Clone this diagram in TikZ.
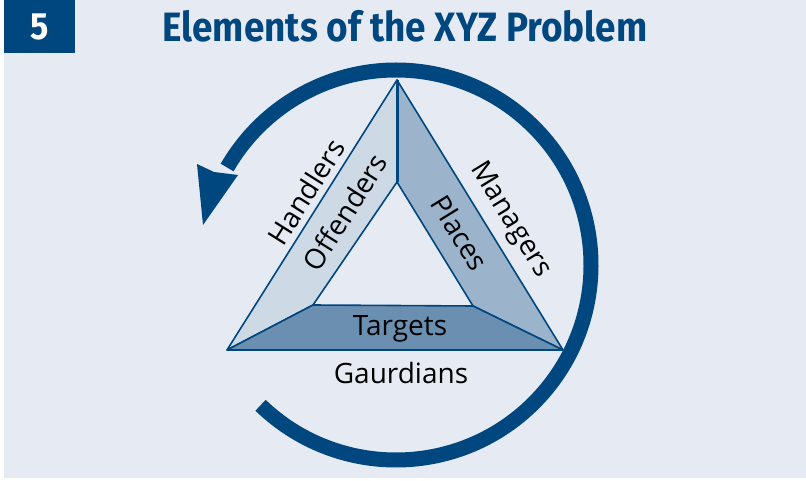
\documentclass[tikz,border=0pt]{standalone}
\usepackage{fontspec}
\setmainfont{Open Sans}
\newfontfamily\titlefont{Fira Sans}[FakeStretch=0.9]
\definecolor{dblue}{HTML}{00467F}
\definecolor{bgc}{HTML}{E6EBF3}
\definecolor{faceL}{HTML}{CDDAE6}
\definecolor{faceR}{HTML}{9BB4CC}
\definecolor{faceB}{HTML}{6B8FB1}
\tikzset{
  face/.style={draw=dblue, line width=1.6pt, line join=round},
  lbl/.style={inner sep=0pt, font=\fontsize{28}{28}\selectfont, text=black},
}
\begin{document}
\begin{tikzpicture}[x=1pt,y=-1pt]
\useasboundingbox (0,0) rectangle (806,481);
\fill[bgc] (4,0) rectangle (806,478);
\fill[dblue] (4,0) rectangle (75,53);
\node[anchor=base, inner sep=0pt, text=white, font=\titlefont\bfseries\fontsize{38}{38}\selectfont] (num) at (40,40) {5};
\node[anchor=base, inner sep=0pt, text=dblue, font=\titlefont\bfseries\fontsize{41}{41}\selectfont] (title) at (405,42) {Elements of the XYZ Problem};
% circular arrow
\coordinate (C) at (396,265);
\draw[dblue, line width=15pt] (C) ++(134:195) arc[start angle=134, end angle=-150, radius=195];
\fill[dblue] (197,164) -- (214,172) -- (238,175) -- (203,225) -- cycle;
% triangle
\coordinate (A) at (397,80);
\coordinate (L) at (227,350);
\coordinate (R) at (563,350);
\coordinate (a) at (397,182);
\coordinate (l) at (313,305);
\coordinate (r) at (473,306);
\filldraw[face, fill=faceL] (A) -- (a) -- (l) -- (L) -- cycle;
\filldraw[face, fill=faceR] (A) -- (R) -- (r) -- (a) -- cycle;
\filldraw[face, fill=faceB] (L) -- (l) -- (r) -- (R) -- cycle;
\draw[dblue, line width=3pt] (A) -- (a);
% labels
\node[lbl, rotate=57.8] (handlers) at (306,192) {Handlers};
\node[lbl, rotate=57.8] (offenders) at (345,212) {Offenders};
\node[lbl, rotate=-58.4] (managers) at (510,220) {Managers};
\node[lbl, rotate=-58.4] (places) at (460,233) {Places};
\node[lbl, anchor=base] (targets) at (400,335) {Targets};
\node[lbl, anchor=base] (guardians) at (401,383) {Gaurdians};
\end{tikzpicture}
\end{document}
